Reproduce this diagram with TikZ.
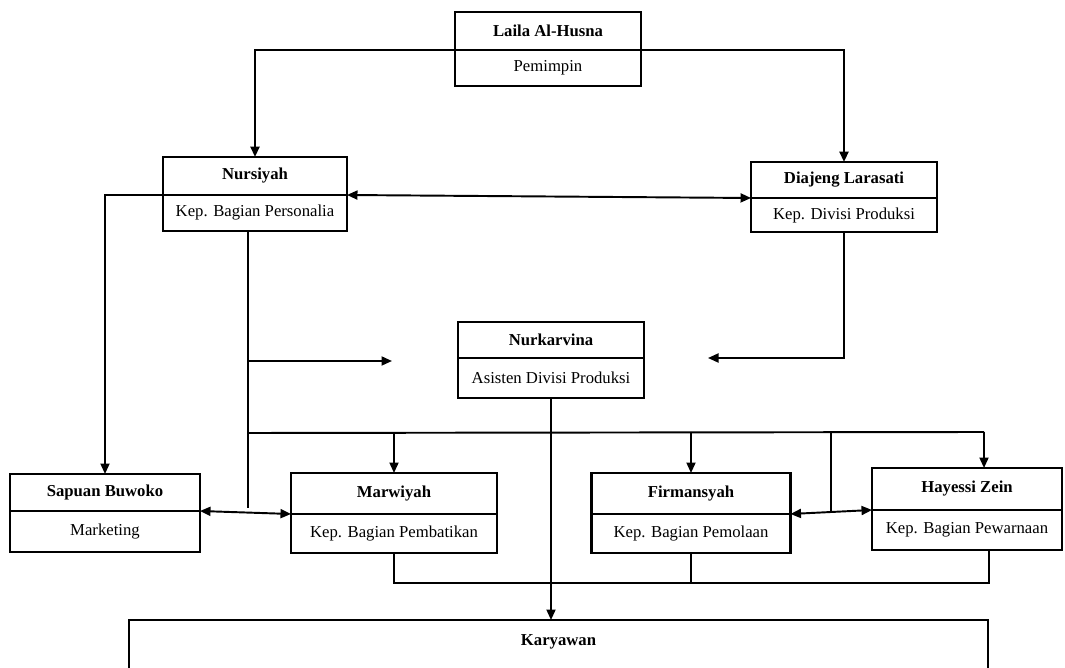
\documentclass[tikz,border=0pt]{standalone}
\usepackage{fontspec}
\setmainfont{Liberation Serif}
\usetikzlibrary{arrows.meta,positioning}

\begin{document}
\begin{tikzpicture}[x=0.02cm, y=-0.02cm, font=\fontsize{9.5}{11}\selectfont,
  head/.style={draw, line width=1.2pt, outer sep=0pt, inner sep=2pt, font=\fontsize{9.5}{11}\selectfont\bfseries},
  role/.style={draw, line width=1.2pt, outer sep=0pt, inner sep=2pt},
  link/.style={line width=1.1pt},
  arr/.style={line width=1.1pt, -{Triangle[length=2.1mm,width=1.8mm]}},
  dbl/.style={line width=1.1pt, {Triangle[length=2.1mm,width=1.8mm]}-{Triangle[length=2.1mm,width=1.8mm]}}]
  \useasboundingbox (0,0) rectangle (1065,668);
  \node[head, minimum width=3.72cm, minimum height=0.76cm] (laila) at (548,31) {Laila Al-Husna};
  \node[role, minimum width=3.72cm, minimum height=0.72cm, below=0pt of laila] (lailaR) {Pemimpin};
  \node[head, minimum width=3.68cm, minimum height=0.76cm] (nursiyah) at (255,176) {Nursiyah};
  \node[role, minimum width=3.68cm, minimum height=0.72cm, below=0pt of nursiyah] (nursiyahR) {Kep. Bagian Personalia};
  \node[head, minimum width=3.72cm, minimum height=0.72cm] (diajeng) at (844,180) {Diajeng Larasati};
  \node[role, minimum width=3.72cm, minimum height=0.68cm, below=0pt of diajeng] (diajengR) {Kep. Divisi Produksi};
  \node[head, minimum width=3.72cm, minimum height=0.72cm] (nurkarvina) at (551,340) {Nurkarvina};
  \node[role, minimum width=3.72cm, minimum height=0.8cm, below=0pt of nurkarvina] (nurkarvinaR) {Asisten Divisi Produksi};
  \node[head, minimum width=3.8cm, minimum height=0.74cm] (sapuan) at (105,492.5) {Sapuan Buwoko};
  \node[role, minimum width=3.8cm, minimum height=0.82cm, below=0pt of sapuan] (sapuanR) {Marketing};
  \node[head, minimum width=4.12cm, minimum height=0.82cm] (marwiyah) at (394,493.5) {Marwiyah};
  \node[role, minimum width=4.12cm, minimum height=0.78cm, below=0pt of marwiyah] (marwiyahR) {Kep. Bagian Pembatikan};
  \node[head, minimum width=3.98cm, minimum height=0.82cm] (firmansyah) at (691,493.5) {Firmansyah};
  \node[role, minimum width=3.98cm, minimum height=0.78cm, below=0pt of firmansyah] (firmansyahR) {Kep. Bagian Pemolaan};
  \node[head, minimum width=3.8cm, minimum height=0.84cm] (hayessi) at (967,489) {Hayessi Zein};
  \node[role, minimum width=3.8cm, minimum height=0.8cm, below=0pt of hayessi] (hayessiR) {Kep. Bagian Pewarnaan};
  \node[draw, line width=1.2pt, outer sep=0pt, anchor=north, minimum width=17.18cm, inner ysep=0.3cm, text depth=1.3cm, font=\fontsize{9.5}{11}\selectfont\bfseries] (karyawan) at (558.5,620) {Karyawan};

  \coordinate (jA) at (248,508);
  \coordinate (tipA) at (392,361);
  \coordinate (busL) at (248,433);
  \coordinate (busR) at (984,432);
  \coordinate (jB) at (831,512);
  \coordinate (tipB) at (708,358);
  \coordinate (busB) at (989,583);

  \draw[arr, line width=1.4pt] (laila.south west) -| (nursiyah.north);
  \draw[arr, line width=1.4pt] (laila.south east) -| (diajeng.north);
  \draw[dbl] (nursiyah.south east) -- (diajeng.south west);
  \draw[arr] (nursiyah.south west) -| (sapuan.north);
  \draw[link] (nursiyahR.south -| jA) -- (jA);
  \draw[arr] (jA |- tipA) -- (tipA);
  \draw[link] (busL) -- (busR);
  \draw[arr] (marwiyah.north |- busL) -- (marwiyah.north);
  \draw[arr] (firmansyah.north |- busL) -- (firmansyah.north);
  \draw[arr] (busR) -- (busR |- hayessi.north);
  \draw[link] (jB |- busL) -- (jB);
  \draw[dbl] (sapuan.south east) -- (marwiyah.south west);
  \draw[dbl] (firmansyah.south east) -- (hayessi.south west);
  \draw[arr] (diajengR.south) |- (tipB);
  \draw[arr] (nurkarvinaR.south) -- (nurkarvinaR.south |- karyawan.north);
  \draw[link] (marwiyahR.south) |- (busB) -- (busB |- hayessiR.south);
  \draw[link] (firmansyahR.south) -- (firmansyahR.south |- busB);
\end{tikzpicture}
\end{document}
